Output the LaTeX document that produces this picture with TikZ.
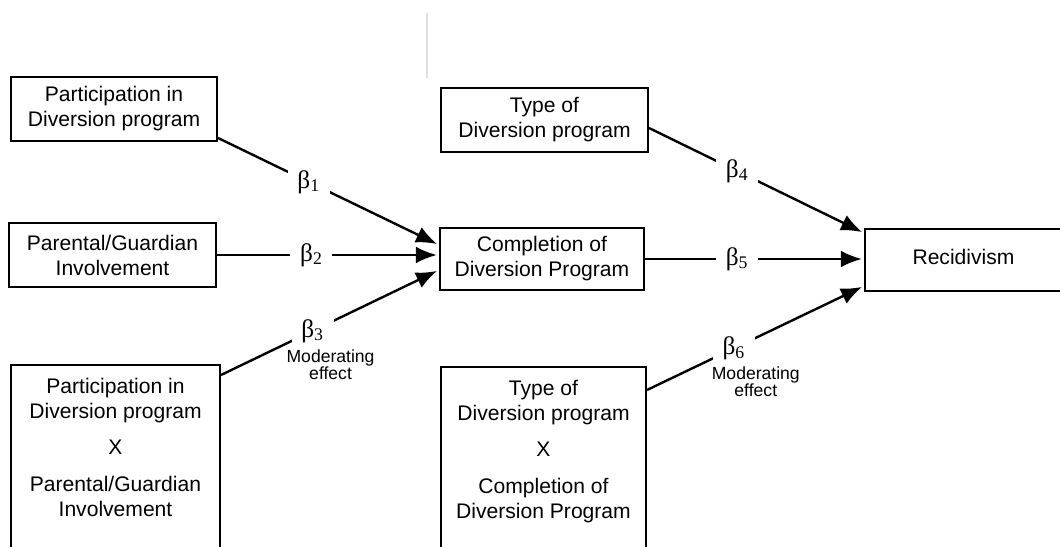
\documentclass[tikz,border=0pt]{standalone}
\usepackage{fontspec}
\setmainfont{Liberation Sans}
\newfontfamily\betafont{Liberation Serif}
\usetikzlibrary{arrows.meta,positioning}
\tikzset{
	boxtext/.style={align=center,inner sep=0pt,font=\fontsize{15}{17.8}\selectfont},
	box/.style={boxtext,draw,line width=1.4pt},
	link/.style={line width=1.7pt,shorten >=1.5pt,-{Latex[length=15pt,width=12pt]}},
	coef/.style={fill=white,inner xsep=7pt,inner ysep=3pt,font=\betafont\fontsize{18}{20}\selectfont},
	modnote/.style={align=center,inner sep=0pt,font=\fontsize{12.5}{12}\selectfont},
}
\newcommand{\bsub}[1]{β\textsubscript{#1}}

\begin{document}
\begin{tikzpicture}
	\useasboundingbox (0,0) rectangle (26.5,13.65);
	\clip (0,0) rectangle (26.5,13.65);
	\draw[gray!25,line width=1.5pt] (10.675,13.325) -- (10.675,11.7);
	
	\node[box,minimum width=5.15cm,minimum height=1.6cm] (part) at (2.85,10.925) {Participation in\\Diversion program};
	\node[box,minimum width=5.175cm,minimum height=1.6cm] (parent) at (2.8125,7.275) {Parental/Guardian\\Involvement};
	\node[box,minimum width=5.225cm,minimum height=5cm,anchor=north] (partxparent) at (2.8875,4.55) {};
	\node[boxtext,below=0.35cm of partxparent.north] (partxparenttext) {Participation in\\Diversion program\\[8pt]X\\[8pt]Parental/Guardian\\Involvement};
	
	\node[box,minimum width=5.175cm,minimum height=1.6cm] (type) at (13.6125,10.65) {Type of\\Diversion program};
	\node[box,minimum width=5.1cm,minimum height=1.55cm] (compl) at (13.55,7.175) {Completion of\\Diversion Program};
	\node[box,minimum width=5.125cm,minimum height=5cm,anchor=north] (typexcompl) at (13.5875,4.5) {};
	\node[boxtext,below=0.35cm of typexcompl.north] (typexcompltext) {Type of\\Diversion program\\[8pt]X\\[8pt]Completion of\\Diversion Program};
	
	\node[box,minimum width=4.925cm,minimum height=1.55cm] (recid) at (24.0875,7.15) {\raisebox{4pt}{Recidivism}};
	
	\draw[link] ([yshift=0.1cm]part.south east) -- node[coef,pos=0.41] (b1) {\bsub{1}} ([yshift=0.35cm]compl.west);
	\draw[link] (parent.east) -- node[coef,pos=0.425] (b2) {\bsub{2}} (parent.east -| compl.west);
	\draw[link] ([yshift=-0.275cm]partxparent.north east) -- node[coef,pos=0.42] (b3) {\bsub{3}} ([yshift=-0.275cm]compl.west);
	\node[modnote,below=1pt of b3,xshift=0.45cm] (mod3) {Moderating\\effect};
	
	\draw[link] ([yshift=-0.2cm]type.east) -- node[coef,pos=0.41] (b4) {\bsub{4}} ([yshift=0.675cm]recid.west);
	\draw[link] (compl.east) -- node[coef,pos=0.42] (b5) {\bsub{5}} (compl.east -| recid.west);
	\draw[link] ([yshift=-0.6cm]typexcompl.north east) -- node[coef,pos=0.4] (b6) {\bsub{6}} ([yshift=-0.65cm]recid.west);
	\node[modnote,below=1pt of b6,xshift=0.55cm] (mod6) {Moderating\\effect};
\end{tikzpicture}
\end{document}
